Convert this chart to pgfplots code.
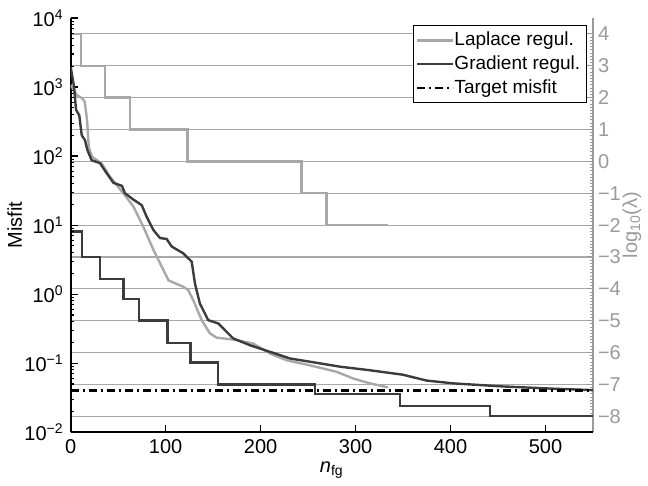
\documentclass[border=0pt]{standalone}
\usepackage{fontspec}
\setmainfont{Liberation Sans}
\usepackage{pgfplots}
\pgfplotsset{compat=1.18}
\definecolor{lap}{HTML}{A8A8A8}
\definecolor{grd}{HTML}{3C3C3C}
\definecolor{gridc}{HTML}{A8A8A8}
\definecolor{rax}{HTML}{9A9A9A}

\pgfplotstableread{
x y
0 1950
3.5 1000
5.6 468
9 389
11.6 200
15 170
17.5 123
22 87
30.8 79
38 56
45 41
54 37
57 29
66 23.4
74.7 19.5
80 13.2
87 8.5
94 6.5
101 6.3
106.3 4.9
118.5 3.9
123.8 3.3
127.4 2.95
130.8 1.43
136 0.73
144.8 0.42
155.4 0.376
171 0.229
188.7 0.182
209.8 0.146
230.8 0.117
251.9 0.105
283.5 0.089
315 0.079
350 0.068
374.7 0.056
402.7 0.051
455.4 0.046
508 0.0427
550 0.0407
}\gradmis

\pgfplotstableread{
x y
0 1070
6.6 760
12 690
14.7 617
17.2 331
19 135
22.4 98
32.6 78
41.4 50
55.4 29
66 18.6
76.4 9.5
87 4.4
94.4 2.75
103 1.58
118.5 1.28
123.8 1.14
129 0.82
137.9 0.42
146.6 0.27
153.7 0.234
171 0.22
192 0.193
209.8 0.138
227.4 0.110
252 0.093
280 0.075
297.5 0.060
315 0.051
334 0.0447
}\lapmis

\pgfplotstableread{
x y
0 4
10.5 3
36 2
62.5 1
123 0
243 -1
269.5 -2
334 -2
}\laplam

\pgfplotstableread{
x y
0 -2.2
11.6 -3.0
30.8 -3.7
55.4 -4.32
71.9 -5.0
101.7 -5.7
126.3 -6.31
155.4 -7.0
257 -7.3
346.6 -7.68
441.4 -8.0
550 -8.0
}\gradlam

\begin{document}
\begin{tikzpicture}[font=\fontsize{10}{12}\selectfont]
\begin{axis}[
  scale only axis, width=261pt, height=207pt,
  xmin=0, xmax=550, ymin=-8.5, ymax=4.5,
  axis x line=none, axis y line*=right,
  axis line style={rax, line width=0.6pt, -},
  ytick={-8,-7,...,4},
  yticklabels={−8,−7,−6,−5,−4,−3,−2,−1,0,1,2,3,4},
  yticklabel style={text=rax, xshift=-1pt},
  minor y tick num=9,
  tick align=inside,
  major tick length=3pt, minor tick length=1.5pt,
  tick style={rax, line width=0.5pt},
  ymajorgrids, major grid style={gridc, line width=0.55pt},
  ylabel={log\textsubscript{10}(λ)},
  ylabel style={text=rax, at={([xshift=19.5pt]axis description cs:1,0.5)}, anchor=center},
]
\addplot[lap, line width=1.2pt, const plot] table {\laplam};
\addplot[grd, line width=1.2pt, const plot] table {\gradlam};
\end{axis}
\begin{axis}[
  scale only axis, width=261pt, height=207pt,
  xmin=0, xmax=550, ymode=log, ymin=1e-2, ymax=1e4,
  axis x line*=bottom, axis y line*=left,
  axis line style={black, line width=1pt, -},
  xtick={0,100,...,500},
  ytick={1e-2,1e-1,1,1e1,1e2,1e3,1e4},
  minor ytick={2e-2,3e-2,4e-2,5e-2,6e-2,7e-2,8e-2,9e-2,
               2e-1,3e-1,4e-1,5e-1,6e-1,7e-1,8e-1,9e-1,
               2,3,4,5,6,7,8,9,20,30,40,50,60,70,80,90,
               200,300,400,500,600,700,800,900,
               2000,3000,4000,5000,6000,7000,8000,9000},
  yticklabels={10\textsuperscript{−2},10\textsuperscript{−1},10\textsuperscript{0},10\textsuperscript{1},10\textsuperscript{2},10\textsuperscript{3},10\textsuperscript{4}},
  tick align=inside,
  major tick length=3.5pt, minor tick length=1.8pt,
  tick style={black, line width=0.6pt},
  /pgf/number format/assume math mode=true,
  xlabel={\textit{n}\textsubscript{fg}},
  xlabel style={at={([yshift=-19pt]axis description cs:0.5,0)}, anchor=center},
  ylabel={Misfit},
  ylabel style={at={([xshift=-28pt]axis description cs:0,0.5)}, anchor=center},
  legend cell align=left,
  legend style={at={(0.989,0.983)}, anchor=north east, draw=black, line width=0.6pt, inner sep=1.2pt, row sep=-0.5pt, font=\fontsize{9.5}{11.5}\selectfont,
    /tikz/every odd column/.append style={column sep=-2pt}},
  legend image code/.code={\draw[#1] (0pt,0pt) -- (18pt,0pt);},
]
\addplot[lap, line width=1.2pt] table {\lapmis};
\addlegendentry{Laplace regul.}
\addplot[grd, line width=1.2pt] table {\gradmis};
\addlegendentry{Gradient regul.}
\addplot[black, line width=1.2pt, dash pattern=on 4pt off 2pt on 1pt off 2pt] coordinates {(0,0.04) (550,0.04)};
\addlegendentry{Target misfit}
\end{axis}
\path (current axis.south west) ++(-35.35pt,-26pt);
\path (current axis.north east) ++(27.5pt,9pt);
\end{tikzpicture}
\end{document}
